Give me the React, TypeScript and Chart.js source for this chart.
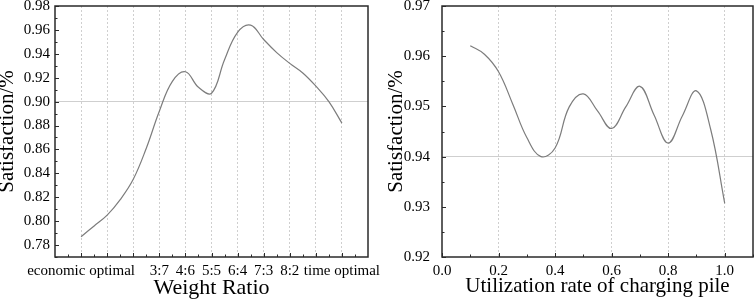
import React, { useEffect, useRef } from "react";
import { Chart, registerables } from "chart.js";

Chart.register(...registerables);

// ---------- Left chart data ----------
const weightCategories = ["economic optimal", "1:9", "2:8", "3:7", "4:6", "5:5", "6:4", "7:3", "8:2", "9:1", "time optimal"];
const weightShownLabels = ["economic optimal", "", "", "3:7", "4:6", "5:5", "6:4", "7:3", "8:2", "", "time optimal"];
const weightCategoryPos = [1, 2, 3, 4, 5, 6, 7, 8, 9, 10, 11];
const weightMinorPos = [0.5, 1.5, 2.5, 3.5, 4.5, 5.5, 6.5, 7.5, 8.5, 9.5, 10.5, 11.5];
const weightX = [1, 1.5, 2, 2.5, 3, 3.5, 4, 4.5, 5, 5.5, 6, 6.5, 7, 7.5, 8, 8.5, 9, 9.5, 10, 10.5, 11];
const weightSatisfaction = [0.787, 0.796, 0.805, 0.818, 0.835, 0.861, 0.892, 0.917, 0.925, 0.912, 0.907, 0.935, 0.958, 0.964, 0.952, 0.941, 0.932, 0.924, 0.913, 0.9, 0.882];
const leftYTicks = [0.78, 0.8, 0.82, 0.84, 0.86, 0.88, 0.9, 0.92, 0.94, 0.96, 0.98];
const leftYTickLabels = ["0.78", "0.80", "0.82", "0.84", "0.86", "0.88", "0.90", "0.92", "0.94", "0.96", "0.98"];
const leftYMinor = [0.77, 0.79, 0.81, 0.83, 0.85, 0.87, 0.89, 0.91, 0.93, 0.95, 0.97];
const leftRefLine = 0.9;

// ---------- Right chart data ----------
const utilX = [0.1, 0.15, 0.2, 0.25, 0.3, 0.35, 0.4, 0.45, 0.5, 0.55, 0.6, 0.65, 0.7, 0.75, 0.8, 0.85, 0.9, 0.95, 1.0];
const utilSatisfaction = [0.9621, 0.9604, 0.9569, 0.9505, 0.9438, 0.94, 0.9417, 0.9499, 0.9525, 0.9491, 0.9456, 0.9499, 0.954, 0.9483, 0.9427, 0.9481, 0.9531, 0.9455, 0.9307];
const rightXTicks = [0, 0.2, 0.4, 0.6, 0.8, 1.0];
const rightXTickLabels = ["0.0", "0.2", "0.4", "0.6", "0.8", "1.0"];
const rightXMinor = [0.1, 0.3, 0.5, 0.7, 0.9, 1.1];
const rightYTicks = [0.92, 0.93, 0.94, 0.95, 0.96, 0.97];
const rightYTickLabels = ["0.92", "0.93", "0.94", "0.95", "0.96", "0.97"];
const rightYMinor = [0.925, 0.935, 0.945, 0.955, 0.965];
const rightRefLine = 0.94;

const FONT = "'Liberation Serif', 'Times New Roman', serif";

const framePlugin = {
  id: "frameTicks",
  afterDraw(chart: any, _args: any, opts: any) {
    const { ctx, chartArea: a, scales } = chart;
    const xs = scales.x;
    const ys = scales.y;
    ctx.save();
    ctx.strokeStyle = "#2a2a2a";
    ctx.lineWidth = 1;
    const seg = (x1: number, y1: number, x2: number, y2: number) => {
      ctx.beginPath();
      ctx.moveTo(x1, y1);
      ctx.lineTo(x2, y2);
      ctx.stroke();
    };
    (opts.xMajor || []).forEach((v: number) => {
      const p = Math.round(xs.getPixelForValue(v)) + 0.5;
      seg(p, a.bottom, p, a.bottom - 4);
    });
    (opts.xMinor || []).forEach((v: number) => {
      const p = Math.round(xs.getPixelForValue(v)) + 0.5;
      seg(p, a.bottom, p, a.bottom - 2.5);
    });
    (opts.yMajor || []).forEach((v: number) => {
      const p = Math.round(ys.getPixelForValue(v)) + 0.5;
      seg(a.left, p, a.left + 4, p);
    });
    (opts.yMinor || []).forEach((v: number) => {
      const p = Math.round(ys.getPixelForValue(v)) + 0.5;
      seg(a.left, p, a.left + 2.5, p);
    });
    ctx.lineWidth = 1.5;
    ctx.strokeRect(a.left, a.top, a.right - a.left, a.bottom - a.top);
    ctx.restore();
  },
};

function makeConfig(p: any) {
  return {
    type: "line",
    data: {
      datasets: [
        {
          data: p.xs.map((x: number, i: number) => ({ x, y: p.ys[i] })),
          borderColor: "#7c7c7c",
          borderWidth: 1.2,
          pointRadius: 0,
          fill: false,
          tension: 0.4,
        },
      ],
    },
    options: {
      animation: false,
      responsive: false,
      devicePixelRatio: 1,
      layout: { padding: p.padding },
      plugins: {
        legend: { display: false },
        tooltip: { enabled: false },
        frameTicks: { xMajor: p.xTicks, xMinor: p.xMinor, yMajor: p.yTicks, yMinor: p.yMinor },
      },
      scales: {
        x: {
          type: "linear",
          min: p.xMin,
          max: p.xMax,
          afterBuildTicks: (s: any) => {
            s.ticks = p.xTicks.map((v: number) => ({ value: v }));
          },
          afterFit: (s: any) => {
            s.height = p.xAxisHeight;
            s.paddingLeft = 0;
            s.paddingRight = 0;
          },
          grid: {
            drawTicks: false,
            lineWidth: 1,
            color: (c: any) =>
              c.tick && c.tick.value > p.xMin && c.tick.value < p.xMax ? "#cfcfcf" : "rgba(0,0,0,0)",
          },
          border: { display: false, dash: [2, 2] },
          ticks: {
            autoSkip: false,
            maxRotation: 0,
            padding: p.xTickPad,
            color: "#000",
            font: { family: FONT, size: 15 },
            callback: (_v: any, i: number) => p.xLabels[i],
          },
          title: {
            display: true,
            text: p.xTitle,
            color: "#000",
            font: { family: FONT, size: p.xTitleSize, lineHeight: 1.2 },
            padding: { top: 0, bottom: p.xTitlePadBottom },
          },
        },
        y: {
          type: "linear",
          min: p.yMin,
          max: p.yMax,
          afterBuildTicks: (s: any) => {
            s.ticks = p.yTicks.map((v: number) => ({ value: v }));
          },
          afterFit: (s: any) => {
            s.width = p.yAxisWidth;
            s.paddingTop = 0;
            s.paddingBottom = 0;
          },
          grid: {
            drawTicks: false,
            lineWidth: 1,
            color: (c: any) =>
              c.tick && Math.abs(c.tick.value - p.refLine) < 1e-9 ? "#cfcfcf" : "rgba(0,0,0,0)",
          },
          border: { display: false },
          ticks: {
            padding: p.yTickPad,
            color: "#000",
            font: { family: FONT, size: 15 },
            callback: (_v: any, i: number) => p.yLabels[i],
          },
          title: {
            display: true,
            text: "Satisfaction/%",
            color: "#000",
            font: { family: FONT, size: 21, lineHeight: 1.2 },
            padding: { top: p.yTitlePadTop, bottom: 0 },
          },
        },
      },
    },
    plugins: [framePlugin],
  };
}

function ChartCanvas(props: { width: number; height: number; left: number; cfg: any }) {
  const ref = useRef<HTMLCanvasElement | null>(null);
  useEffect(() => {
    if (!ref.current) return;
    const chart = new Chart(ref.current, props.cfg);
    return () => chart.destroy();
  }, []);
  return (
    <canvas
      ref={ref}
      width={props.width}
      height={props.height}
      style={{ position: "absolute", left: props.left, top: 0, width: props.width, height: props.height }}
    />
  );
}

export default function App() {
  const leftCfg = makeConfig({
    xs: weightX,
    ys: weightSatisfaction,
    xMin: 0,
    xMax: 12,
    xTicks: weightCategoryPos,
    xLabels: weightShownLabels,
    xMinor: weightMinorPos,
    yMin: 0.77,
    yMax: 0.98,
    yTicks: leftYTicks,
    yLabels: leftYTickLabels,
    yMinor: leftYMinor,
    refLine: leftRefLine,
    xTitle: "Weight Ratio",
    xTitleSize: 22,
    xTitlePadBottom: 1,
    xTickPad: 5,
    xAxisHeight: 45,
    yAxisWidth: 55,
    yTickPad: 5,
    yTitlePadTop: -5,
    padding: { left: 0, top: 6, right: 12, bottom: 0 },
  });
  const rightCfg = makeConfig({
    xs: utilX,
    ys: utilSatisfaction,
    xMin: 0,
    xMax: 1.1,
    xTicks: rightXTicks,
    xLabels: rightXTickLabels,
    xMinor: rightXMinor,
    yMin: 0.92,
    yMax: 0.97,
    yTicks: rightYTicks,
    yLabels: rightYTickLabels,
    yMinor: rightYMinor,
    refLine: rightRefLine,
    xTitle: "Utilization rate of charging pile",
    xTitleSize: 21,
    xTitlePadBottom: 3,
    xTickPad: 5,
    xAxisHeight: 45,
    yAxisWidth: 62,
    yTickPad: 12,
    yTitlePadTop: 4,
    padding: { left: 0, top: 6, right: 1, bottom: 0 },
  });
  void weightCategories;
  return (
    <div style={{ position: "fixed", left: 0, top: 0, width: 754, height: 302, background: "#fff", overflow: "hidden" }}>
      <ChartCanvas width={380} height={302} left={0} cfg={leftCfg} />
      <ChartCanvas width={374} height={302} left={380} cfg={rightCfg} />
    </div>
  );
}
